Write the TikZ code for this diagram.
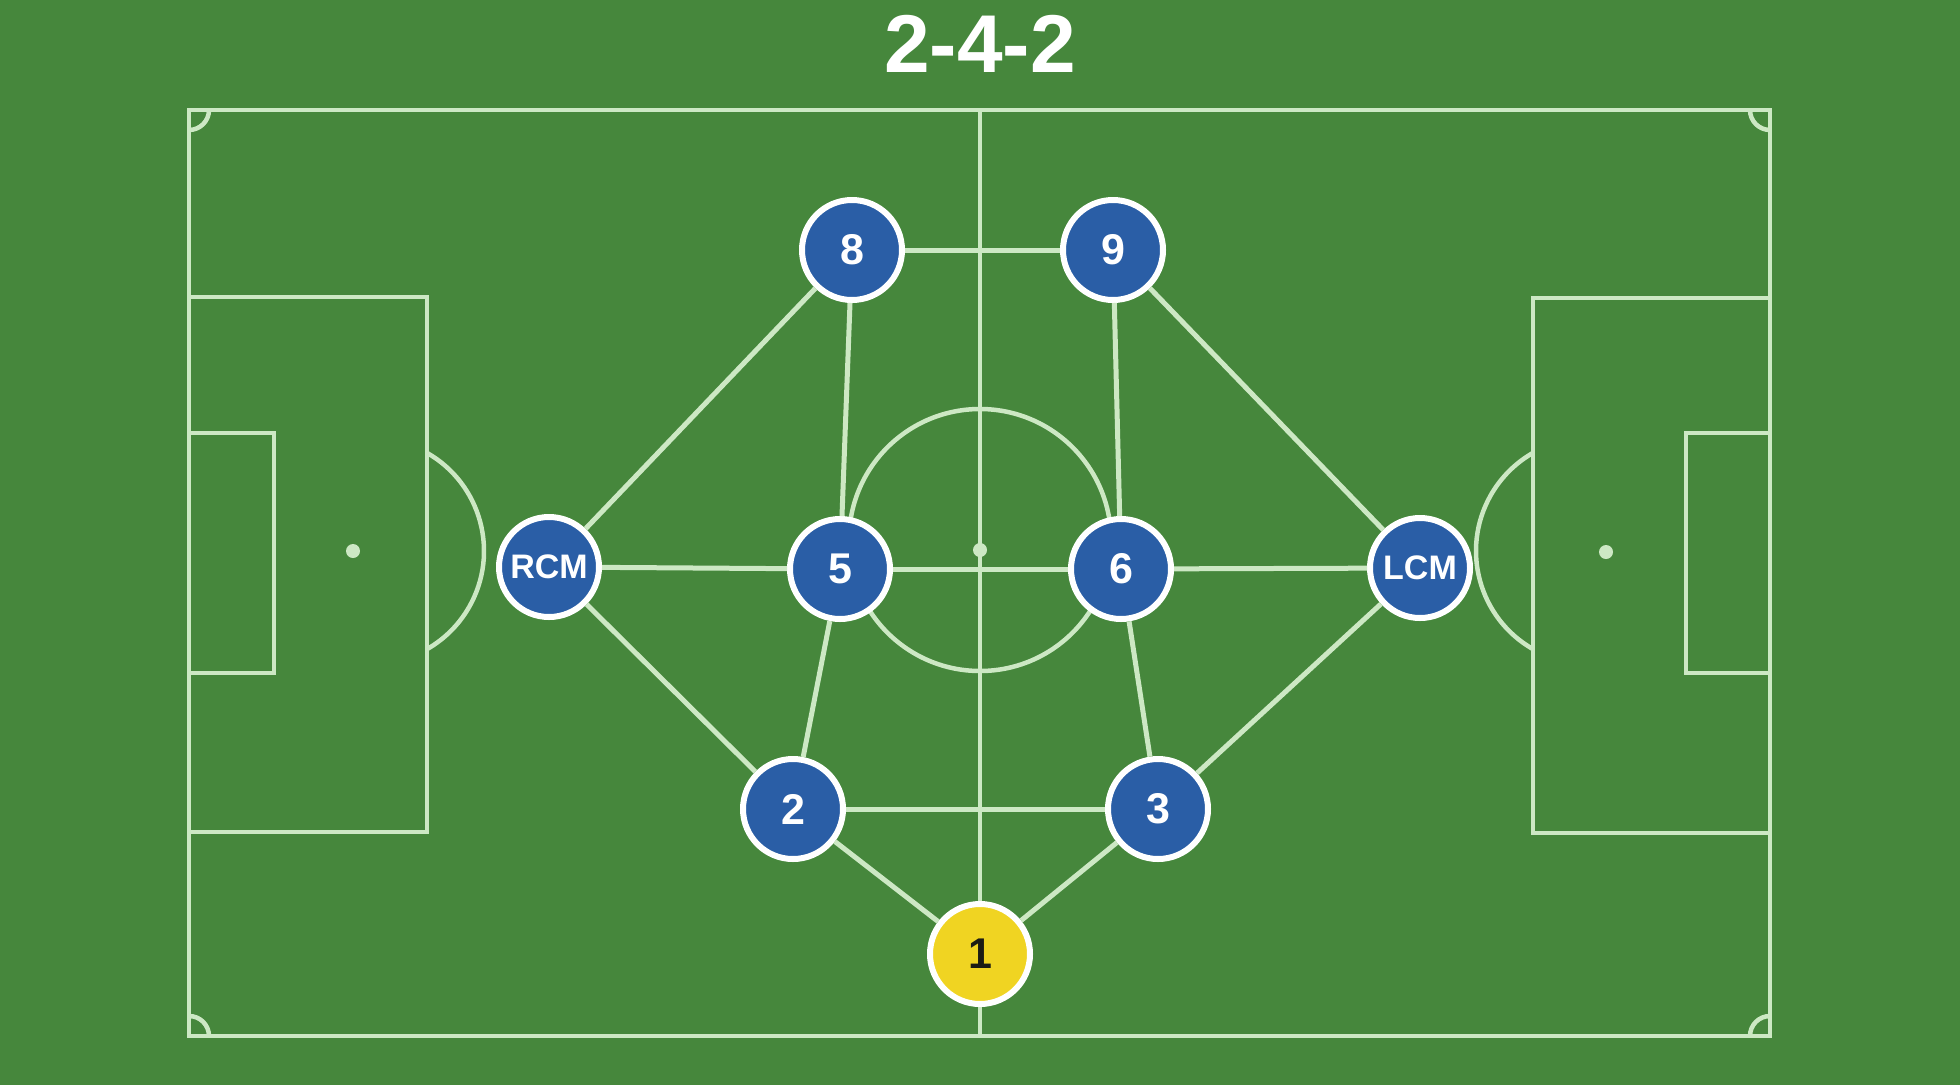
\documentclass[tikz,border=0pt]{standalone}
\usepackage{fontspec}
\setmainfont{Liberation Sans}
\definecolor{bgc}{HTML}{46873C}
\definecolor{linec}{HTML}{CDE8C4}
\definecolor{pblue}{HTML}{2A5EA6}
\definecolor{pyellow}{HTML}{F0D422}
\definecolor{darkt}{HTML}{1C1C14}
\begin{document}
\begin{tikzpicture}[x=1pt,y=-1pt,
  pitch/.style={draw=linec, line width=4.5pt},
  link/.style={draw=linec, line width=5pt},
  player/.style={circle, draw=white, line width=6pt, fill=pblue, minimum size=100pt,
    inner sep=0pt, text=white, font=\bfseries\fontsize{43}{43}\selectfont},
  keeper/.style={player, fill=pyellow, text=darkt},
  small/.style={font=\bfseries\fontsize{34}{34}\selectfont},
  titlestyle/.style={text=white, font=\bfseries\fontsize{82}{82}\selectfont, inner sep=0pt}]
\fill[bgc] (0,0) rectangle (1960,1085);
\useasboundingbox (0,0) rectangle (1960,1085);
% title
\node[titlestyle] (title) at (980,44) {2-4-2};
% pitch outline
\draw[pitch] (189,110) rectangle (1770,1036);
\draw[pitch] (980,110) -- (980,1036);
\draw[pitch] (980,540) circle[radius=131];
\fill[linec] (980,550) circle[radius=7];
% left end
\draw[pitch] (189,297) rectangle (427,832);
\draw[pitch] (189,433) rectangle (274,673);
\fill[linec] (353,551) circle[radius=7];
\draw[pitch] (371,551) ++(-60.3:113) arc[start angle=-60.3, end angle=60.3, radius=113];
% right end
\draw[pitch] (1533,298) rectangle (1770,833);
\draw[pitch] (1686,433) rectangle (1770,673);
\fill[linec] (1606,552) circle[radius=7];
\draw[pitch] (1589,551) ++(119.7:113) arc[start angle=119.7, end angle=240.3, radius=113];
% corners
\draw[pitch] (209,110) arc[start angle=0, end angle=90, radius=20];
\draw[pitch] (1750,110) arc[start angle=180, end angle=90, radius=20];
\draw[pitch] (209,1036) arc[start angle=0, end angle=-90, radius=20];
\draw[pitch] (1750,1036) arc[start angle=180, end angle=270, radius=20];
% players
\node[player] (n8) at (852,250) {8};
\node[player] (n9) at (1113,250) {9};
\node[player, small] (rcm) at (549,567) {RCM};
\node[player] (n5) at (840,569) {5};
\node[player] (n6) at (1121,569) {6};
\node[player, small] (lcm) at (1420,568) {LCM};
\node[player] (n2) at (793,809) {2};
\node[player] (n3) at (1158,809) {3};
\node[keeper] (n1) at (980,954) {1};
% connectors
\draw[link] (n8) -- (n9);
\draw[link] (n8) -- (rcm);
\draw[link] (n8) -- (n5);
\draw[link] (n9) -- (n6);
\draw[link] (n9) -- (lcm);
\draw[link] (rcm) -- (n5);
\draw[link] (n5) -- (n6);
\draw[link] (n6) -- (lcm);
\draw[link] (rcm) -- (n2);
\draw[link] (n5) -- (n2);
\draw[link] (n6) -- (n3);
\draw[link] (lcm) -- (n3);
\draw[link] (n2) -- (n3);
\draw[link] (n2) -- (n1);
\draw[link] (n3) -- (n1);
\end{tikzpicture}
\end{document}
